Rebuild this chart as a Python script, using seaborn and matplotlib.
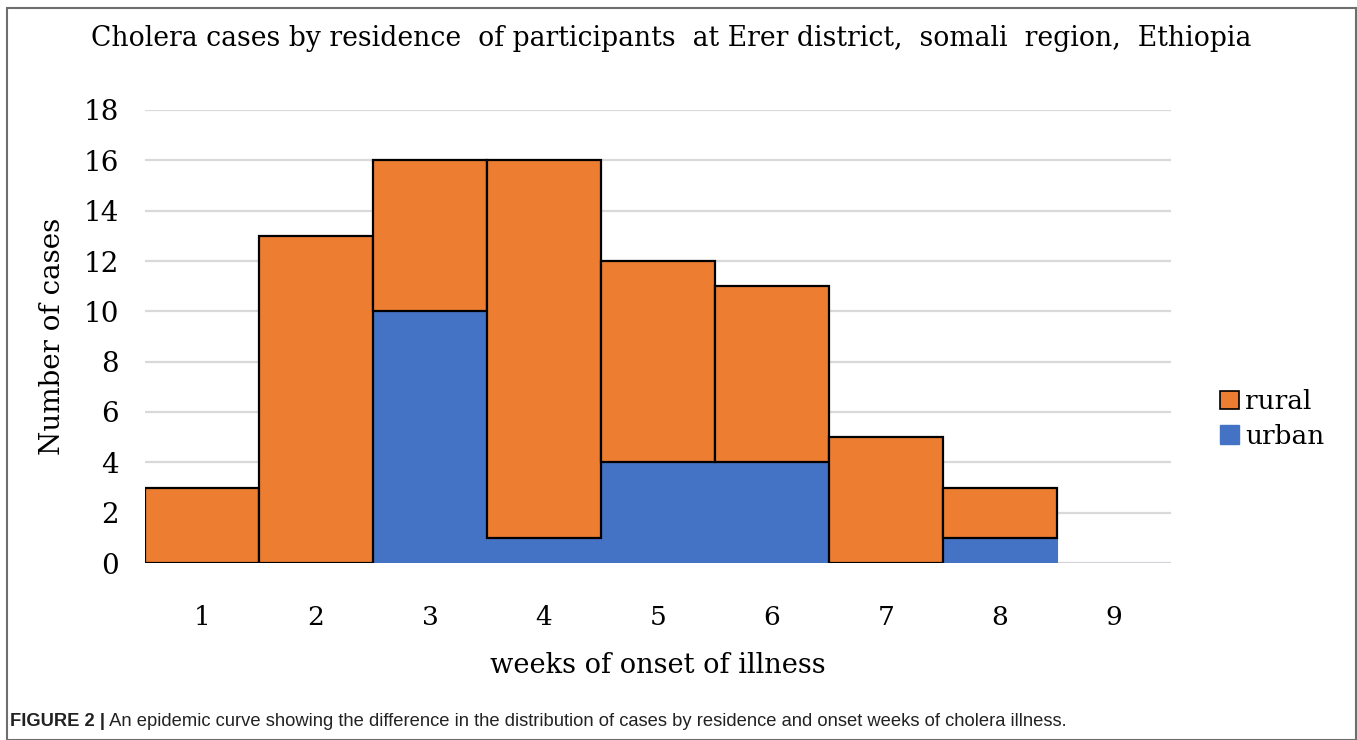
import matplotlib
matplotlib.use("Agg")
import matplotlib.pyplot as plt
import seaborn as sns
import pandas as pd
from matplotlib.patches import Patch, Rectangle

# data
weeks = ["1", "2", "3", "4", "5", "6", "7", "8", "9"]
urban = [0, 0, 10, 1, 4, 4, 0, 1, 0]
rural = [3, 13, 6, 15, 8, 7, 5, 2, 0]
yticks = [0, 2, 4, 6, 8, 10, 12, 14, 16, 18]

title = "Cholera cases by residence  of participants  at Erer district,  somali  region,  Ethiopia"
caption_bold = "FIGURE 2 |"
caption_text = " An epidemic curve showing the difference in the distribution of cases by residence and onset weeks of cholera illness."

ORANGE = "#ED7D31"
BLUE = "#4472C4"

sns.set_theme(style="white")
plt.rcParams["font.family"] = ["DejaVu Serif"]
plt.rcParams.update({"text.color": "black", "axes.labelcolor": "black",
                     "xtick.color": "black", "ytick.color": "black"})

df = pd.DataFrame({"week": weeks, "urban": urban, "rural": rural})

fig = plt.figure(figsize=(13.57, 7.40), dpi=100)
ax = fig.add_axes([145 / 1357, 1 - 563 / 740, (1171 - 145) / 1357, (563 - 110) / 740])

# gridlines behind the bars
for y in yticks:
    ax.axhline(y, color="#d9d9d9", lw=1.6, zorder=0)

# urban bars (bottom)
sns.barplot(data=df, x="week", y="urban", color=BLUE, saturation=1, width=1,
            edgecolor=BLUE, linewidth=0.8, ax=ax, zorder=2)
# rural bars stacked on top, outlined in black
edges = ["black" if v > 0 else "none" for v in df["rural"]]
ax.bar(range(len(weeks)), df["rural"], bottom=df["urban"], width=1, color=ORANGE,
       edgecolor=edges, linewidth=1.6, zorder=3)

ax.set_xlim(-0.5, len(weeks) - 0.5)
ax.set_ylim(0, 18)
ax.set_yticks(yticks)
ax.set_yticklabels([str(t) for t in yticks])
ax.tick_params(axis="y", length=0, pad=19, labelsize=20)
ax.tick_params(axis="x", length=0, pad=30, labelsize=19)
for s in ax.spines.values():
    s.set_visible(False)

ax.set_xlabel("weeks of onset of illness", fontsize=19.6, labelpad=16)
ax.set_ylabel("Number of cases", fontsize=20, labelpad=12)

fig.text(671 / 1357, 1 - 39 / 740, title, ha="center", va="center", fontsize=19.2)

handles = [Patch(facecolor=ORANGE, edgecolor="black", linewidth=1.2, label="rural"),
           Patch(facecolor=BLUE, edgecolor=BLUE, label="urban")]
fig.legend(handles=handles, loc="center left", bbox_to_anchor=(1207 / 1357, 1 - 419 / 740),
           frameon=False, fontsize=19, handlelength=0.7, handleheight=0.7,
           handletextpad=0.25, labelspacing=0.35, borderpad=0)

# outer frame
fig.patches.append(Rectangle((7 / 1357, 0), (1356 - 7) / 1357, 1 - 8 / 740,
                             transform=fig.transFigure, fill=False,
                             edgecolor="#6e6e6e", linewidth=1.5))

# caption
renderer = fig.canvas.get_renderer()
t1 = fig.text(10 / 1357, 1 - 722 / 740, caption_bold, ha="left", va="center",
              fontsize=13.2, fontweight="bold", color="#222222",
              family=["Liberation Sans", "DejaVu Sans"])
bb = t1.get_window_extent(renderer)
fig.text(bb.x1 / 1357, 1 - 722 / 740, caption_text, ha="left", va="center",
         fontsize=13.2, color="#222222", family=["Liberation Sans", "DejaVu Sans"])

fig.savefig("out.png", dpi=100)
